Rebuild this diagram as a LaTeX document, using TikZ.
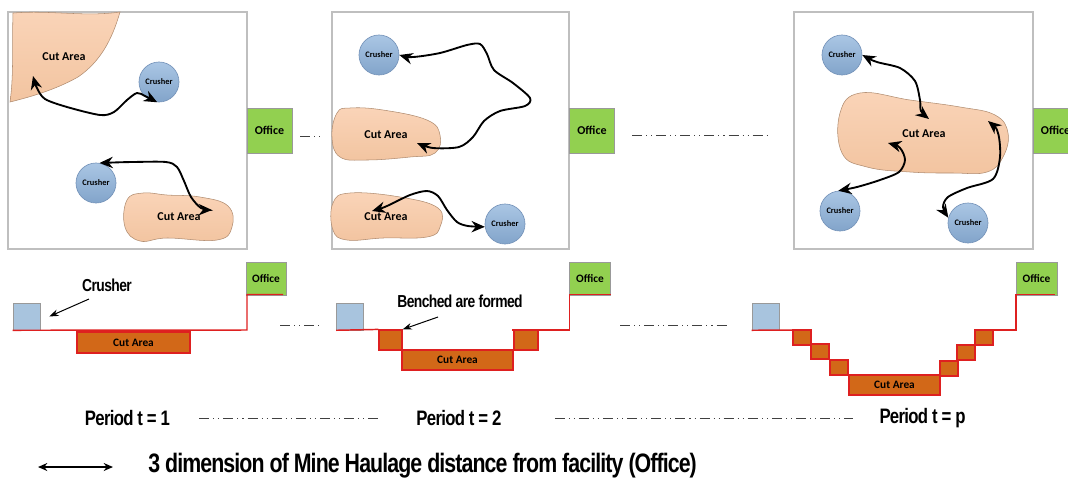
\documentclass[tikz,border=0pt]{standalone}
\usepackage{fontspec}
\setmainfont{Carlito}
\newfontfamily\narrowfont[FakeStretch=0.8,LetterSpace=-3.4]{Liberation Sans}
\usetikzlibrary{arrows.meta}

\definecolor{cutTop}{RGB}{250,212,184}
\definecolor{cutBot}{RGB}{242,196,160}
\definecolor{cutEdge}{RGB}{176,140,112}
\definecolor{crTop}{RGB}{170,198,228}
\definecolor{crBot}{RGB}{130,164,202}
\definecolor{crEdge}{RGB}{118,148,186}
\definecolor{officeGreen}{RGB}{146,208,80}
\definecolor{frameGrey}{RGB}{191,191,191}
\definecolor{pitOrange}{RGB}{210,104,24}
\definecolor{haulRed}{RGB}{222,32,32}
\definecolor{squareBlue}{RGB}{168,196,222}

\tikzset{
  panelframe/.style={draw=frameGrey, line width=0.8pt},
  blob/.style={draw=cutEdge, line width=0.4pt, top color=cutTop, bottom color=cutBot},
  crusher/.style={circle, draw=crEdge, line width=0.5pt, top color=crTop, bottom color=crBot, minimum size=30pt, inner sep=0pt, font=\bfseries\fontsize{6.3}{7}\selectfont},
  office/.style={draw=frameGrey!80!black, fill=officeGreen, inner sep=0pt, font=\bfseries\fontsize{9}{10}\selectfont},
  cutlabel/.style={inner sep=0.75pt, font=\bfseries\fontsize{9}{10}\selectfont},
  haul/.style={{Stealth[length=10pt,width=8.5pt]}-{Stealth[length=10pt,width=8.5pt]}, line width=1.4pt},
  gap/.style={draw=black!75, line width=0.75pt, dash pattern=on 7.5pt off 3pt on 0.8pt off 3pt on 0.8pt off 3pt},
  crsquare/.style={draw=frameGrey!80!black, fill=squareBlue, minimum size=20.25pt, inner sep=0pt},
  pit/.style={draw=haulRed, fill=pitOrange, line width=0.9pt, inner sep=0pt, font=\bfseries\fontsize{8.5}{10}\selectfont},
  bench/.style={draw=haulRed, fill=pitOrange, line width=0.9pt},
  profile/.style={draw=haulRed, line width=1.1pt},
  note/.style={inner sep=0.75pt, font=\narrowfont\bfseries\fontsize{13}{15}\selectfont},
  pointer/.style={-{Stealth[length=7pt,width=5pt]}, line width=0.75pt},
  period/.style={inner sep=0.75pt, font=\narrowfont\bfseries\fontsize{15.7}{18}\selectfont},
  legendtext/.style={inner sep=0.75pt, font=\narrowfont\bfseries\fontsize{20}{22}\selectfont},
  legendarrow/.style={{Stealth[length=7pt,width=6pt]}-{Stealth[length=7pt,width=6pt]}, line width=1.1pt}
}

\begin{document}
\begin{tikzpicture}[x=0.75pt,y=0.75pt,yscale=-1,xscale=1]
    \useasboundingbox (0,0) rectangle (1068,480);

    %Shape: Rectangle [panel frames]
    \draw[panelframe] (8,12) rectangle (247,249);
    \draw[panelframe] (332,12) rectangle (569,249);
    \draw[panelframe] (794,12) rectangle (1033,249);

    %Shape: Rectangle [offices, top row]
    \node[office, minimum width=33.75pt, minimum height=33.75pt] (of1) at (269.5,130.5) {Office};
    \node[office, minimum width=33.75pt, minimum height=33.75pt] (of2) at (592,130.5) {Office};
    \node[office, minimum width=33.75pt, minimum height=33.75pt] (of3) at (1055.5,130.5) {Office};

    %Shape: Cut areas, period 1
    \draw[blob] (13,13) .. controls (50,10) and (85,17) .. (120,12) .. controls (112,40) and (100,62) .. (78,77) .. controls (55,90) and (30,97) .. (10,102) .. controls (14,75) and (12,40) .. (13,13) -- cycle;
    \draw[blob] plot[smooth cycle, tension=0.7] coordinates {(127,200) (143,193) (167,195) (200,197) (228,206) (232,227) (217,240) (167,238) (140,241) (125,227)};
    %Shape: Cut areas, period 2
    \draw[blob] plot[smooth cycle, tension=0.7] coordinates {(337,113) (350,108) (383,110) (427,120) (440,135) (435,153) (410,157) (367,160) (340,157) (332,137)};
    \draw[blob] plot[smooth cycle, tension=0.7] coordinates {(333,203) (350,193) (400,197) (438,208) (440,227) (427,237) (383,238) (347,240) (333,230)};
    %Shape: Cut area, period p
    \draw[blob] plot[smooth cycle, tension=0.7] coordinates {(840,113) (860,93) (910,100) (960,107) (995,115) (1008,133) (1003,157) (987,172) (953,173) (910,172) (867,167) (842,153)};

    % Text Node
    \node[cutlabel] (ca1a) at (64,57) {Cut Area};
    \node[cutlabel] (ca1b) at (179,217) {Cut Area};
    \node[cutlabel] (ca2a) at (386,135) {Cut Area};
    \node[cutlabel] (ca2b) at (386,217) {Cut Area};
    \node[cutlabel] (ca3) at (924,134) {Cut Area};

    %Shape: Circle [crushers]
    \node[crusher] (cr1a) at (159,82) {Crusher};
    \node[crusher] (cr1b) at (96,183) {Crusher};
    \node[crusher] (cr2a) at (379,55) {Crusher};
    \node[crusher] (cr2b) at (505,224) {Crusher};
    \node[crusher] (cr3a) at (842,55) {Crusher};
    \node[crusher] (cr3b) at (840,211) {Crusher};
    \node[crusher] (cr3c) at (968,223) {Crusher};

    % haul road ends inside the cut areas
    \coordinate (h1a) at (33,76);
    \coordinate (h1b) at (212,210);
    \coordinate (h2a) at (417,143);
    \coordinate (h2b) at (372,211);
    \coordinate (h3a) at (929,119);
    \coordinate (h3b) at (888,143);
    \coordinate (h3c) at (988,121);

    %Curve Lines [haul roads]
    \draw[haul] plot[smooth] coordinates {(h1a) (37,88) (45,99) (67,107) (100,115) (114,112) (127,100) (137,93) (145,96) (cr1a.-95)};
    \draw[haul] plot[smooth] coordinates {(cr1b.80) (133,162) (166,162) (177,167) (184,181) (191,197) (201,208) (h1b)};
    \draw[haul] plot[smooth] coordinates {(cr2a.east) (413,57) (440,53) (467,45) (480,44) (487,54) (494,70) (513,83) (530,98) (525,106) (500,111) (484,121) (473,137) (459,147) (433,148) (h2a)};
    \draw[haul] plot[smooth] coordinates {(h2b) (387,206) (410,195) (427,191) (438,196) (447,210) (457,222) (468,226) (cr2b.188)};
    \draw[haul] plot[smooth] coordinates {(cr3a.east) (877,62) (900,68) (915,81) (920,100) (921,111) (h3a)};
    \draw[haul] plot[smooth] coordinates {(h3b) (900,148) (905,160) (899,172) (880,180) (857,187) (cr3b.95)};
    \draw[haul] plot[smooth] coordinates {(h3c) (998,133) (1000,157) (993,179) (967,188) (948,197) (943,207) (cr3c.165)};

    %Dash-dot gaps, top row
    \coordinate (g1s) at (300,136);
    \coordinate (g1e) at (322,136);
    \coordinate (g2s) at (632,135);
    \coordinate (g2e) at (768,135);
    \draw[gap] (g1s) -- (g1e);
    \draw[gap] (g2s) -- (g2e);

    %Shape: Rectangle [offices, profile row]
    \node[office, minimum width=30pt, minimum height=24.5pt, font=\bfseries\fontsize{8.5}{10}\selectfont] (bo1) at (266,278.5) {Office};
    \node[office, minimum width=31pt, minimum height=24.5pt, font=\bfseries\fontsize{8.5}{10}\selectfont] (bo2) at (590,278.5) {Office};
    \node[office, minimum width=31pt, minimum height=24.5pt, font=\bfseries\fontsize{8.5}{10}\selectfont] (bo3) at (1036.5,278.5) {Office};

    %Shape: Rectangle [crusher squares]
    \node[crsquare] (bs1) at (26.5,316.5) {};
    \node[crsquare] (bs2) at (350,316.5) {};
    \node[crsquare] (bs3) at (765.5,316.5) {};

    % profile, period 1
    \node[pit, minimum width=84.75pt, minimum height=15.75pt] (bca1) at (133.5,342.5) {Cut Area};
    \draw[profile] (bs1.south west) -- (247,330) -- (247,294.5) -- (283,294.5);

    % profile, period 2
    \node[bench, minimum width=17.25pt, minimum height=15pt, inner sep=0pt] (bl2) at (390.5,340) {};
    \node[bench, minimum width=18pt, minimum height=15pt, inner sep=0pt] (br2) at (526,340) {};
    \node[pit, minimum width=83.25pt, minimum height=15pt] (bca2) at (457.5,360) {Cut Area};
    \draw[profile] (bs2.south west) -- (bl2.north west);
    \draw[profile] (512,330) -- (569.5,330) -- (569.5,294.5) -- (611,294.5);

    % profile, period p
    \foreach \bx/\by in {793/330, 811/344, 830/360, 940/361, 957/345, 975/330}
      \draw[bench] (\bx,\by) rectangle ++(18,15);
    \node[pit, minimum width=68.25pt, minimum height=15pt] (bca3) at (894.5,385) {Cut Area};
    \draw[profile] (bs3.south west) -- (793,330);
    \draw[profile] (993,330) -- (1016,330) -- (1016,294.5) -- (1055,294.5);

    %Dash-dot gaps, profile row
    \coordinate (g3s) at (280,325);
    \coordinate (g3e) at (322,325);
    \coordinate (g4s) at (620,325);
    \coordinate (g4e) at (730,325);
    \draw[gap] (g3s) -- (g3e);
    \draw[gap] (g4s) -- (g4e);

    % Text Node
    \node[note] (lcr) at (107,285) {Crusher};
    \node[note] (lbn) at (460,301) {Benched are formed};
    \coordinate (lcrp) at (89,299);
    \coordinate (lbnp) at (438,317);
    \draw[pointer] (lcrp) -- ([xshift=6.75pt]bs1.east);
    \draw[pointer] (lbnp) -- (bl2.north east);

    % Text Node
    \node[period] (t1) at (127.5,418) {Period t = 1};
    \node[period] (t2) at (459,418) {Period t = 2};
    \node[period] (tp) at (922.5,418) {Period t = p};
    \draw[gap] ([xshift=21pt]t1.east) -- ([xshift=-26pt]t2.west);
    \draw[gap] ([xshift=39pt]t2.east) -- ([xshift=-18.75pt]tp.west);

    % legend
    \coordinate (lgA) at (38,467);
    \coordinate (lgB) at (113,467);
    \draw[legendarrow] (lgA) -- (lgB);
    \node[legendtext, anchor=west] (lg) at (147,466) {3 dimension of Mine Haulage distance from facility (Office)};

\end{tikzpicture}
\end{document}
